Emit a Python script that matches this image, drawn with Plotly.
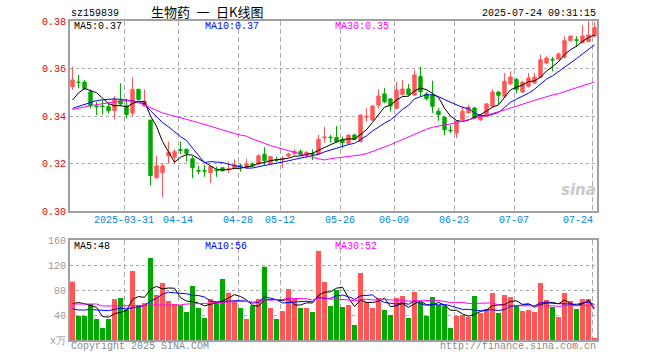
import plotly.graph_objects as go
import pandas as pd

# ---------------- data ----------------
dates = [
    "2025-03-18", "2025-03-19", "2025-03-20", "2025-03-21", "2025-03-24", "2025-03-25", "2025-03-26",
    "2025-03-27", "2025-03-28", "2025-03-31",
    "2025-04-01", "2025-04-02", "2025-04-03", "2025-04-07", "2025-04-08", "2025-04-09", "2025-04-10",
    "2025-04-11", "2025-04-14", "2025-04-15", "2025-04-16", "2025-04-17", "2025-04-18", "2025-04-21",
    "2025-04-22", "2025-04-23", "2025-04-24", "2025-04-25", "2025-04-28", "2025-04-29", "2025-04-30",
    "2025-05-06", "2025-05-07", "2025-05-08", "2025-05-09", "2025-05-12", "2025-05-13", "2025-05-14",
    "2025-05-15", "2025-05-16", "2025-05-19", "2025-05-20", "2025-05-21", "2025-05-22", "2025-05-23",
    "2025-05-26", "2025-05-27", "2025-05-28", "2025-05-29", "2025-05-30",
    "2025-06-03", "2025-06-04", "2025-06-05", "2025-06-06", "2025-06-09", "2025-06-10", "2025-06-11",
    "2025-06-12", "2025-06-13", "2025-06-16", "2025-06-17", "2025-06-18", "2025-06-19", "2025-06-20",
    "2025-06-23", "2025-06-24", "2025-06-25", "2025-06-26", "2025-06-27", "2025-06-30",
    "2025-07-01", "2025-07-02", "2025-07-03", "2025-07-04", "2025-07-07", "2025-07-08", "2025-07-09",
    "2025-07-10", "2025-07-11", "2025-07-14", "2025-07-15", "2025-07-16", "2025-07-17", "2025-07-18",
    "2025-07-21", "2025-07-22", "2025-07-23", "2025-07-24",
]

opens = [
    0.3523, 0.3543, 0.3543, 0.3502, 0.3442, 0.3442, 0.3439, 0.3422, 0.3464, 0.3442,
    0.3412, 0.3512, 0.3442, 0.3383, 0.3140, 0.3161, 0.3232, 0.3226, 0.3258, 0.3260,
    0.3220, 0.3170, 0.3170, 0.3161, 0.3172, 0.3182, 0.3175, 0.3180, 0.3191, 0.3184,
    0.3198, 0.3198, 0.3239, 0.3201, 0.3216, 0.3216, 0.3232, 0.3243, 0.3250, 0.3236,
    0.3241, 0.3240, 0.3308, 0.3311, 0.3310, 0.3302, 0.3285, 0.3320, 0.3292, 0.3395,
    0.3383, 0.3446, 0.3493, 0.3472, 0.3432, 0.3491, 0.3514, 0.3488, 0.3566, 0.3493,
    0.3487, 0.3420, 0.3395, 0.3340, 0.3328, 0.3384, 0.3413, 0.3434, 0.3384, 0.3399,
    0.3441, 0.3501, 0.3483, 0.3535, 0.3553, 0.3501, 0.3525, 0.3539, 0.3563, 0.3623,
    0.3638, 0.3640, 0.3647, 0.3717, 0.3721, 0.3709, 0.3714, 0.3736,
]
highs = [
    0.3608, 0.3573, 0.3552, 0.3512, 0.3460, 0.3467, 0.3456, 0.3484, 0.3538, 0.3473,
    0.3563, 0.3515, 0.3512, 0.3383, 0.3232, 0.3201, 0.3292, 0.3260, 0.3292, 0.3262,
    0.3232, 0.3190, 0.3194, 0.3190, 0.3187, 0.3185, 0.3208, 0.3218, 0.3198, 0.3220,
    0.3205, 0.3240, 0.3268, 0.3232, 0.3229, 0.3232, 0.3245, 0.3260, 0.3260, 0.3252,
    0.3260, 0.3320, 0.3355, 0.3320, 0.3358, 0.3313, 0.3322, 0.3325, 0.3406, 0.3432,
    0.3445, 0.3512, 0.3517, 0.3475, 0.3544, 0.3552, 0.3535, 0.3594, 0.3608, 0.3500,
    0.3549, 0.3434, 0.3400, 0.3363, 0.3381, 0.3441, 0.3448, 0.3438, 0.3408, 0.3455,
    0.3511, 0.3503, 0.3581, 0.3588, 0.3560, 0.3548, 0.3581, 0.3581, 0.3658, 0.3652,
    0.3649, 0.3668, 0.3736, 0.3740, 0.3736, 0.3783, 0.3800, 0.3796,
]
lows = [
    0.3510, 0.3517, 0.3510, 0.3432, 0.3404, 0.3407, 0.3411, 0.3386, 0.3440, 0.3390,
    0.3400, 0.3465, 0.3440, 0.3107, 0.3136, 0.3058, 0.3201, 0.3198, 0.3239, 0.3208,
    0.3138, 0.3156, 0.3144, 0.3117, 0.3144, 0.3165, 0.3160, 0.3176, 0.3166, 0.3180,
    0.3185, 0.3194, 0.3190, 0.3196, 0.3206, 0.3180, 0.3226, 0.3232, 0.3232, 0.3222,
    0.3215, 0.3236, 0.3288, 0.3288, 0.3288, 0.3264, 0.3282, 0.3298, 0.3290, 0.3376,
    0.3380, 0.3432, 0.3455, 0.3418, 0.3430, 0.3488, 0.3485, 0.3485, 0.3481, 0.3465,
    0.3413, 0.3380, 0.3319, 0.3328, 0.3307, 0.3380, 0.3410, 0.3388, 0.3380, 0.3396,
    0.3438, 0.3448, 0.3480, 0.3532, 0.3497, 0.3497, 0.3520, 0.3535, 0.3560, 0.3618,
    0.3588, 0.3635, 0.3643, 0.3714, 0.3690, 0.3705, 0.3710, 0.3733,
]
closes = [
    0.3552, 0.3541, 0.3515, 0.3443, 0.3439, 0.3440, 0.3422, 0.3470, 0.3451, 0.3406,
    0.3512, 0.3470, 0.3463, 0.3149, 0.3190, 0.3190, 0.3247, 0.3250, 0.3256, 0.3242,
    0.3182, 0.3168, 0.3168, 0.3187, 0.3170, 0.3170, 0.3177, 0.3194, 0.3189, 0.3198,
    0.3190, 0.3232, 0.3212, 0.3229, 0.3214, 0.3218, 0.3240, 0.3250, 0.3239, 0.3247,
    0.3239, 0.3302, 0.3311, 0.3309, 0.3292, 0.3288, 0.3320, 0.3302, 0.3404, 0.3398,
    0.3442, 0.3484, 0.3460, 0.3443, 0.3509, 0.3514, 0.3491, 0.3573, 0.3502, 0.3473,
    0.3441, 0.3406, 0.3342, 0.3338, 0.3378, 0.3420, 0.3437, 0.3392, 0.3403, 0.3451,
    0.3501, 0.3487, 0.3546, 0.3564, 0.3511, 0.3542, 0.3560, 0.3563, 0.3637, 0.3644,
    0.3636, 0.3661, 0.3717, 0.3736, 0.3719, 0.3737, 0.3741, 0.3773,
]
volumes = [  # 万
    93.3, 38.4, 38.4, 57.6, 33.6, 19.2, 33.6, 65.6, 67.2, 49.0,
    110.4, 55.5, 59.2, 131.2, 72.0, 91.2, 62.4, 57.6, 55.5, 44.8,
    86.4, 51.2, 35.2, 65.6, 60.8, 97.6, 75.7, 62.9, 51.2, 33.6,
    55.5, 65.6, 117.3, 51.2, 33.6, 46.4, 81.6, 67.2, 51.2, 51.2,
    44.8, 142.4, 92.8, 54.4, 80.0, 52.8, 56.0, 24.0, 107.2, 60.8,
    51.2, 67.2, 48.0, 40.0, 67.2, 70.4, 35.2, 76.8, 60.8, 38.4,
    68.8, 56.0, 55.5, 19.2, 38.4, 40.0, 36.8, 70.4, 43.2, 49.6,
    75.2, 43.2, 72.0, 68.8, 54.4, 46.4, 48.0, 44.8, 91.2, 64.0,
    52.8, 36.8, 75.2, 62.4, 49.6, 65.6, 65.6, 3.2,
]

# moving-average values before enough history is visible
ma5_head = [0.3467, 0.3497, 0.3516, 0.3507]
ma10_head = [0.3432, 0.3440, 0.3450, 0.3458, 0.3465, 0.3468, 0.3470, 0.3472, 0.3470]
ma30_head = [0.3427, 0.3434, 0.3438, 0.3444, 0.3448, 0.3453, 0.3457, 0.3461, 0.3463, 0.3464,
             0.3464, 0.3457, 0.3446, 0.3436, 0.3423, 0.3413, 0.3406, 0.3400, 0.3393, 0.3385,
             0.3379, 0.3372, 0.3364, 0.3356, 0.3348, 0.3341, 0.3333, 0.3326, 0.3320]
vma5_head = [58, 60, 58, 55]
vma10_head = [50, 48, 48, 49, 48, 47, 47, 49, 51]
vma30_head = [57.6, 57.6, 57.6, 57.6, 57.6, 54.4, 54.4, 54.4, 54.4, 54.4,
              54.8, 55, 55, 56, 56, 56, 56, 56, 56, 57.6,
              57.6, 57.6, 58.5, 59, 59.7, 60.5, 61, 61.5, 62]

tick_dates = ["2025-03-31", "2025-04-14", "2025-04-28", "2025-05-12", "2025-05-26",
              "2025-06-09", "2025-06-23", "2025-07-07", "2025-07-24"]
tick_labels = ["2025-03-31", "04-14", "04-28", "05-12", "05-26", "06-09", "06-23", "07-07", "07-24"]

code = "sz159839"
title_text = "生物药\u2002一\u2002日K线图"
stamp = "2025-07-24 09:31:15"
price_ma_labels = ["MA5:0.37", "MA10:0.37", "MA30:0.35"]
vol_ma_labels = ["MA5:48", "MA10:56", "MA30:52"]
price_ticks = [0.30, 0.32, 0.34, 0.36, 0.38]
vol_ticks = [0, 40, 80, 120, 160]
vol_tick_text = ["x万", "40", "80", "120", "160"]

# ---------------- derived ----------------
n = len(dates)
xs = list(range(n))


def moving(values, w, head):
    m = pd.Series(values).rolling(w).mean().tolist()
    return head + m[len(head):]


ma5 = moving(closes, 5, ma5_head)
ma10 = moving(closes, 10, ma10_head)
ma30 = moving(closes, 30, ma30_head)
vma5 = moving(volumes, 5, vma5_head)
vma10 = moving(volumes, 10, vma10_head)
vma30 = moving(volumes, 30, vma30_head)

RED = "#FF5757"
GREEN = "#00A800"
up = [c >= o for o, c in zip(opens, closes)]
vol_colors = [RED if u else GREEN for u in up]
tick_pos = [dates.index(d) - 0.35 for d in tick_dates]

# ---------------- pixel helpers (screen coords; body margin removed) ----------------
W, H = 660, 360
L, R, T, B = 70, 597, 21, 340          # plot frame in screen pixels


def px(xp):
    return (xp - L) / (R - L)


def py(yp):
    return (B - yp) / (B - T)


MONO = "Liberation Mono"

fig = go.Figure()
fig.add_trace(go.Candlestick(
    x=xs, open=opens, high=highs, low=lows, close=closes,
    increasing=dict(line=dict(color=RED, width=1), fillcolor=RED),
    decreasing=dict(line=dict(color=GREEN, width=1), fillcolor=GREEN),
    whiskerwidth=0, xaxis="x", yaxis="y", showlegend=False, hoverinfo="skip",
))
for ys, col in [(ma5, "#000000"), (ma10, "#0000FF"), (ma30, "#FF00FF")]:
    fig.add_trace(go.Scatter(x=xs, y=ys, mode="lines", line=dict(color=col, width=1),
                             xaxis="x", yaxis="y", showlegend=False, hoverinfo="skip"))

fig.add_trace(go.Bar(x=xs, y=volumes, marker=dict(color=vol_colors, line=dict(width=0)),
                     width=0.85, xaxis="x2", yaxis="y2", showlegend=False, hoverinfo="skip"))
for ys, col in [(vma5, "#000000"), (vma10, "#0000FF"), (vma30, "#FF00FF")]:
    fig.add_trace(go.Scatter(x=xs, y=ys, mode="lines", line=dict(color=col, width=1),
                             xaxis="x2", yaxis="y2", showlegend=False, hoverinfo="skip"))

xr = [-0.42, n - 1 + 0.42]
axis_common = dict(showline=True, mirror=True, linecolor="#A0A0A0", linewidth=2, zeroline=False,
                   ticks="", automargin=False)
fig.update_layout(
    width=W, height=H,
    margin=dict(l=L, r=W - R, t=T, b=H - B, autoexpand=False),
    paper_bgcolor="white", plot_bgcolor="white",
    boxgap=0.2,
    hovermode=False,
    xaxis=dict(domain=[0, 1], range=xr, anchor="y", tickvals=tick_pos, showticklabels=False,
               showgrid=True, gridcolor="#AAAAAA", gridwidth=1, griddash="5px,3px",
               rangeslider=dict(visible=False), **axis_common),
    yaxis=dict(domain=[py(211), 1], range=[0.30, 0.38], tickvals=price_ticks,
               ticktext=[f"{v:.2f}" for v in price_ticks],
               tickfont=dict(family=MONO, size=10, color="#E00000"),
               showgrid=True, gridcolor="#AAAAAA", gridwidth=1, griddash="dot", **axis_common),
    xaxis2=dict(domain=[0, 1], range=xr, anchor="y2", matches="x", tickvals=tick_pos,
                showticklabels=False, showgrid=True, gridcolor="#AAAAAA", gridwidth=1,
                griddash="5px,3px", **axis_common),
    yaxis2=dict(domain=[0, py(240)], range=[0, 160], tickvals=vol_ticks, ticktext=vol_tick_text,
                tickfont=dict(family=MONO, size=10, color="#999999"),
                showgrid=True, gridcolor="#AAAAAA", gridwidth=1, griddash="dot", **axis_common),
    font=dict(family=MONO, size=10, color="black"),
)

ann = []


def text(x, y, s, color="black", xanchor="left", size=10, family=MONO, xref="paper", **kw):
    ann.append(dict(x=x, y=y, xref=xref, yref="paper", text=s, showarrow=False,
                    xanchor=xanchor, yanchor="middle", borderpad=0,
                    font=dict(family=family, size=size, color=color), **kw))


text(px(70), py(13), code)
text(px(150), py(12), title_text, family="Noto Sans CJK SC", size=13)
text(1.0, py(13), stamp, xanchor="right")

ma_cols = ["#000000", "#0000FF", "#FF00FF"]
ma_x = [73, 204, 334]
for s, c, xp in zip(price_ma_labels, ma_cols, ma_x):
    text(px(xp), py(27), s, color=c)
for s, c, xp in zip(vol_ma_labels, ma_cols, ma_x):
    text(px(xp), py(246.5), s, color=c)

for i, (p, lab) in enumerate(zip(tick_pos, tick_labels)):
    anchor = "right" if i == len(tick_pos) - 1 else "center"
    xx = p + (0.3 if anchor == "right" else 0)
    text(xx, py(221), lab, color="#0088DD", xanchor=anchor, xref="x")

text(0, py(346.5), "Copyright 2025 SINA.COM", color="#888888")
text(1.0, py(346.5), "http://finance.sina.com.cn", color="#888888", xanchor="right")
text(px(597), py(190), "<i><b>sina</b></i>", color="#C8C8C8", xanchor="right",
     size=15, family="DejaVu Sans")

fig.update_layout(annotations=ann)
fig.write_html("out.html", config={"displayModeBar": False},
               post_script="document.body.style.margin='0';")
